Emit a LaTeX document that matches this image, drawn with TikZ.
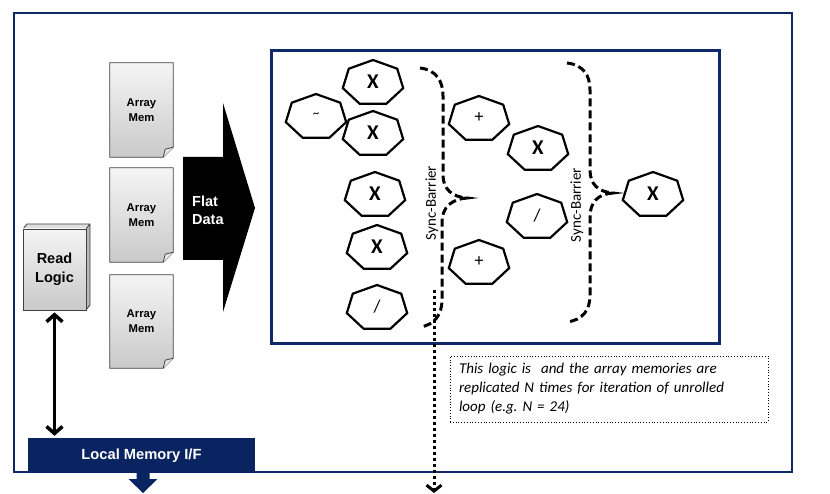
\documentclass[tikz,border=0pt]{standalone}
\usepackage{fontspec}
\setmainfont{Carlito}
\newfontfamily\arialf{Liberation Sans}
\usetikzlibrary{arrows.meta,calc}
\definecolor{navy}{RGB}{14,40,104}
\definecolor{barnavy}{RGB}{10,36,98}
\frenchspacing
\newcommand{\heptshape}[2]{\draw[heptline, shift={(#1,#2+1)}] (0,-23) -- (24.2,-14.3) -- (30.2,5.1) -- (13.4,20.7) -- (-13.4,20.7) -- (-30.2,5.1) -- (-24.2,-14.3) -- cycle;}
\newcommand{\docshape}[1]{%
  \shade[top color=gray!8, bottom color=gray!42, draw=black!75, line width=0.8pt]
    (#1.north west) -- (#1.north east) -- ($(#1.south east)+(0,-10)$) -- ($(#1.south east)+(-10,0)$) -- (#1.south west) -- cycle;
  \fill[gray!20] ($(#1.south east)+(0,-10)$) -- ($(#1.south east)+(-8,-8)$) -- ($(#1.south east)+(-10,0)$) -- cycle;
  \draw[black!75, line width=0.8pt] ($(#1.south east)+(0,-10)$) -- ($(#1.south east)+(-8,-8)$) -- ($(#1.south east)+(-10,0)$);}
\begin{document}
\begin{tikzpicture}[x=1pt,y=-1pt,
  heptline/.style={line width=2.2pt, black, line join=miter},
  xlbl/.style={font=\fontsize{21}{21}\selectfont\bfseries, inner sep=0pt},
  oplbl/.style={font=\fontsize{18}{18}\selectfont, inner sep=0pt},
  tillbl/.style={font=\fontsize{13}{13}\selectfont, inner sep=0pt},
  docbox/.style={minimum width=63pt, inner sep=0pt, align=center, font=\arialf\fontsize{11.3}{15}\selectfont\bfseries},
  barrier/.style={line width=3pt, dash pattern=on 8pt off 4pt, line cap=butt},
  synclbl/.style={rotate=90, font=\fontsize{15}{15}\selectfont, inner sep=0pt},
  frame/.style={draw=navy}]
\useasboundingbox (0,0) rectangle (830,494);

% outer frame
\draw[frame, line width=2pt] (14,13) rectangle (792,472);
% inner box
\draw[frame, line width=3pt] (271,51) rectangle (719,343);

% Array memories
\node[docbox, minimum height=94pt] (am1) at (141.5,110) {};
\node[docbox, minimum height=94pt] (am2) at (141.5,215) {};
\node[docbox, minimum height=93pt] (am3) at (141.5,321.5) {};
\docshape{am1}
\docshape{am2}
\docshape{am3}
\node[docbox] at (am1) {Array\\Mem};
\node[docbox] at (am2) {Array\\Mem};
\node[docbox] at (am3) {Array\\Mem};

% Flat data arrow
\fill[black] (183,157) -- (223,157) -- (223,103) -- (255,208) -- (223,312) -- (223,260) -- (183,260) -- cycle;
\node[anchor=west, align=left, inner sep=0pt, text=white, font=\arialf\fontsize{14.5}{18}\selectfont\bfseries] (fd) at (192,210) {Flat\\Data};

% Read logic 3D box
\fill[gray!25] (23,229) -- (27,224) -- (90,224) -- (86,229) -- cycle;
\fill[gray!55] (86,229) -- (90,224) -- (90,305) -- (86,310) -- cycle;
\draw[black!75, line width=0.8pt] (23,229) -- (27,224) -- (90,224) -- (90,305) -- (86,310) (86,229) -- (90,224);
\node[shade, top color=gray!8, bottom color=gray!42, draw=black!75, line width=0.8pt, minimum width=63pt, minimum height=81pt, inner sep=0pt, align=center, font=\arialf\fontsize{14.5}{19}\selectfont\bfseries] (rl) at (54.5,269.5) {Read\\Logic};

% Local memory bar
\node[fill=barnavy, minimum width=227pt, minimum height=35pt, inner sep=0pt, text=white, font=\arialf\fontsize{14.7}{14.7}\selectfont\bfseries] (lm) at (141.5,455.5) {Local Memory I/F};
\coordinate (lmout) at (143,473);
\fill[barnavy] ($(lmout)+(-6.5,0)$) -- ($(lmout)+(6.5,0)$) -- ($(lmout)+(6.5,6)$) -- ($(lmout)+(14.5,6)$) -- ($(lmout)+(0,20)$) -- ($(lmout)+(-14.5,6)$) -- ($(lmout)+(-6.5,6)$) -- cycle;

% double arrow
\draw[line width=3.5pt, {Straight Barb[length=7pt,width=16pt]}-{Straight Barb[length=7pt,width=16pt]}] ($(rl.south)+(0,2)$) -- ($(rl.south |- lm.north)+(0,-2)$);

% heptagons
\heptshape{373}{82}
\heptshape{316}{116}
\heptshape{373}{133}
\heptshape{375}{194}
\heptshape{377}{247}
\heptshape{377}{307}
\heptshape{479}{118}
\heptshape{538}{148}
\heptshape{537}{216}
\heptshape{479}{262}
\heptshape{653}{194}
\node[xlbl] (h1) at (373,82) {X};
\node[tillbl] (h2) at (316,115) {\char`\~};
\node[xlbl] (h3) at (373,133) {X};
\node[xlbl] (h4) at (375,194) {X};
\node[xlbl] (h5) at (377,247) {X};
\node[oplbl] (h6) at (377,307) {/};
\node[oplbl] (h7) at (479,118) {+};
\node[xlbl] (h8) at (538,148) {X};
\node[oplbl] (h9) at (537,216) {/};
\node[oplbl] (h10) at (479,262) {+};
\node[xlbl] (h11) at (653,194) {X};

% sync barriers
\draw[barrier] (420,68) .. controls (437,70) and (443,82) .. (443,96) -- (443,175) .. controls (443,189) and (452,197) .. (467,198)
  .. controls (452,199) and (442,207) .. (442,222) -- (442,300) .. controls (442,314) and (435,325) .. (420,327);
\node[synclbl] (sb1) at (432,203) {Sync-Barrier};
\draw[barrier] (567,63) .. controls (584,65) and (590,76) .. (590,90) -- (590,170) .. controls (590,184) and (598,192) .. (613,193)
  .. controls (598,194) and (590,202) .. (590,217) -- (590,295) .. controls (590,310) and (583,320) .. (567,322);
\node[synclbl] (sb2) at (577,205) {Sync-Barrier};

% dotted arrow
\coordinate (dstart) at (434,290);
\coordinate (dend) at (434,493);
\draw[line width=3pt, dash pattern=on 3pt off 3pt, -{Straight Barb[length=6pt,width=15pt]}] (dstart) -- (dend);

% note
\node[draw, dotted, line width=0.8pt, minimum width=318pt, minimum height=66pt, text width=300pt, align=left, inner sep=0pt, font=\fontsize{15}{19}\selectfont\itshape] (note) at (609,389) {This logic is \ and the array memories are\\ replicated N times for iteration of unrolled\\ loop (e.g. N = 24)};
\end{tikzpicture}
\end{document}
